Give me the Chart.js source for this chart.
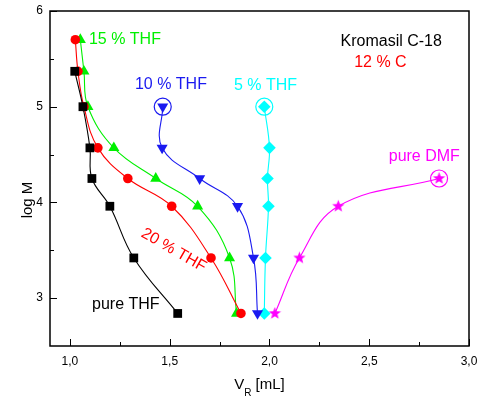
<!DOCTYPE html>
<html lang="en">
<head>
<meta charset="UTF-8">
<title>log M vs V_R - Kromasil C-18</title>
<script src="https://cdn.jsdelivr.net/npm/chart.js"></script>
<style>
  body { margin: 0; background: #fff; }
</style>
</head>
<body>
<canvas id="gpc-chart" width="483" height="399"></canvas>
<script>
// log M levels of the standards (top to bottom)
const logM = [5.70, 5.37, 5.00, 4.57, 4.25, 3.96, 3.42, 2.84];

// retention volumes V_R [mL] per eluent
const vrPureTHF = [1.024, 1.065, 1.10, 1.11, 1.20, 1.32, 1.54];       // logM from 5.37
const vrTHF20 = [1.027, 1.04, 1.07, 1.14, 1.29, 1.51, 1.707, 1.857];   // all levels
const vrTHF15 = [1.052, 1.07, 1.09, 1.22, 1.43, 1.64, 1.80, 1.835];    // all levels
const vrTHF10 = [1.465, 1.462, 1.65, 1.84, 1.92, 1.94];                // logM from 5.00
const vrTHF5 = [1.974, 2.0, 1.99, 1.995, 1.98, 1.974];                 // logM from 5.00
const vrDMF = [2.85, 2.345, 2.15, 2.027];                              // logM from 4.25

const xTicks = [1.0, 1.5, 2.0, 2.5, 3.0];
const xMinor = [1.25, 1.75, 2.25, 2.75];
const yTicks = [3, 4, 5, 6];
const yMinor = [3.5, 4.5, 5.5];

const FONT = '"Liberation Sans", Arial, sans-serif';

function pairs(vr, levels) {
    return vr.map((v, i) => ({ x: v, y: levels[i] }));
}

// filled five-point star marker
function starMarker(color, r) {
    const c = document.createElement('canvas');
    const s = Math.ceil(r * 2 + 2);
    c.width = s; c.height = s;
    const g = c.getContext('2d');
    g.fillStyle = color;
    g.beginPath();
    for (let i = 0; i < 10; i++) {
        const rad = i % 2 ? r * 0.42 : r;
        const a = -Math.PI / 2 + i * Math.PI / 5;
        g.lineTo(s / 2 + rad * Math.cos(a), s / 2 + rad * Math.sin(a));
    }
    g.closePath();
    g.fill();
    return c;
}

function series(data, color, style, radius, rotation) {
    return {
        data: data,
        showLine: true,
        tension: 0.4,
        borderColor: color,
        backgroundColor: color,
        borderWidth: 1.1,
        pointStyle: style,
        pointRadius: radius,
        pointRotation: rotation || 0,
        pointBorderWidth: 0
    };
}

function ring(point, color) {
    return {
        data: [point],
        showLine: false,
        pointStyle: 'circle',
        pointRadius: 8.5,
        borderColor: color,
        backgroundColor: 'rgba(0,0,0,0)',
        pointBorderWidth: 1.2
    };
}

const BLUE = '#1a1af0';
const GREEN = '#00f000';
const thf10 = pairs(vrTHF10, logM.slice(2));
const thf5 = pairs(vrTHF5, logM.slice(2));
const dmf = pairs(vrDMF, logM.slice(4));

// text labels placed in data units
const notes = [
    { text: '15 % THF', x: 1.095, y: 5.70, color: GREEN, align: 'left' },
    { text: '10 % THF', x: 1.506, y: 5.23, color: BLUE, align: 'center' },
    { text: '5 % THF', x: 1.98, y: 5.22, color: '#00ffff', align: 'center' },
    { text: 'pure DMF', x: 2.776, y: 4.48, color: '#ff00ff', align: 'center' },
    { text: 'Kromasil C-18', x: 2.61, y: 5.68, color: '#000', align: 'center' },
    { text: '12 % C', x: 2.556, y: 5.46, color: '#ff0000', align: 'center' },
    { text: 'pure THF', x: 1.28, y: 2.93, color: '#000', align: 'center' },
    { text: '20 % THF', x: 1.52, y: 3.50, color: '#ff0000', align: 'center', angle: 30 }
];

const decorations = {
    id: 'decorations',
    afterDraw(chart) {
        const { ctx, chartArea: a, scales: { x, y } } = chart;
        ctx.save();
        ctx.strokeStyle = '#000';
        ctx.lineWidth = 1.5;
        ctx.strokeRect(a.left, a.top, a.right - a.left, a.bottom - a.top);

        // inward tick marks on bottom and left
        ctx.lineWidth = 1;
        ctx.beginPath();
        xTicks.forEach(v => { const p = Math.round(x.getPixelForValue(v)) + 0.5; ctx.moveTo(p, a.bottom); ctx.lineTo(p, a.bottom - 7); });
        xMinor.forEach(v => { const p = Math.round(x.getPixelForValue(v)) + 0.5; ctx.moveTo(p, a.bottom); ctx.lineTo(p, a.bottom - 4); });
        yTicks.forEach(v => { const p = Math.round(y.getPixelForValue(v)) + 0.5; ctx.moveTo(a.left, p); ctx.lineTo(a.left + 7, p); });
        yMinor.forEach(v => { const p = Math.round(y.getPixelForValue(v)) + 0.5; ctx.moveTo(a.left, p); ctx.lineTo(a.left + 4, p); });
        ctx.stroke();

        // annotations
        ctx.font = '16px ' + FONT;
        ctx.textBaseline = 'middle';
        notes.forEach(n => {
            ctx.save();
            ctx.translate(x.getPixelForValue(n.x), y.getPixelForValue(n.y));
            if (n.angle) ctx.rotate(n.angle * Math.PI / 180);
            ctx.fillStyle = n.color;
            ctx.textAlign = n.align;
            ctx.fillText(n.text, 0, 0);
            ctx.restore();
        });

        // axis titles
        ctx.fillStyle = '#000';
        ctx.font = '15px ' + FONT;
        const cx = (a.left + a.right) / 2;
        const w1 = ctx.measureText('V').width;
        ctx.font = '10px ' + FONT;
        const w2 = ctx.measureText('R').width;
        ctx.font = '15px ' + FONT;
        const w3 = ctx.measureText(' [mL]').width;
        let tx = cx - (w1 + w2 + w3) / 2;
        ctx.textAlign = 'left';
        ctx.fillText('V', tx, 385);
        ctx.font = '10px ' + FONT;
        ctx.fillText('R', tx + w1, 393);
        ctx.font = '15px ' + FONT;
        ctx.fillText(' [mL]', tx + w1 + w2, 385);

        ctx.translate(28, 200);
        ctx.rotate(-Math.PI / 2);
        ctx.textAlign = 'center';
        ctx.fillText('log M', 0, 0);
        ctx.restore();
    }
};

// drop the label overflow padding so layout.padding alone sets the plot box
function noOverflow(s) {
    s.paddingLeft = 0; s.paddingRight = 0; s.paddingTop = 0; s.paddingBottom = 0;
}

const ctx = document.getElementById('gpc-chart').getContext('2d');
new Chart(ctx, {
    type: 'scatter',
    data: {
        datasets: [
            series(pairs(vrPureTHF, logM.slice(1)), '#000000', 'rect', 6.2),
            series(pairs(vrTHF20, logM), '#ff0000', 'circle', 4.8),
            series(pairs(vrTHF15, logM), GREEN, 'triangle', 6.4),
            series(thf10, BLUE, 'triangle', 6.4, 180),
            series(thf5, '#00ffff', 'rectRot', 6.3),
            series(dmf, '#ff00ff', starMarker('#ff00ff', 6.5), 6.5),
            ring(thf10[0], BLUE),
            ring(thf5[0], '#00ffff'),
            ring(dmf[0], '#ff00ff')
        ]
    },
    options: {
        responsive: false,
        animation: false,
        layout: { padding: { top: 11, right: 14, left: 0, bottom: 0 } },
        plugins: { legend: { display: false }, tooltip: { enabled: false } },
        scales: {
            x: {
                type: 'linear',
                min: 0.9,
                max: 3.0,
                grid: { display: false, drawTicks: false },
                border: { display: false },
                afterBuildTicks: s => { s.ticks = xTicks.map(v => ({ value: v })); },
                afterFit: s => { s.height = 53; noOverflow(s); },
                ticks: {
                    color: '#000',
                    padding: 8,
                    maxRotation: 0,
                    font: { family: FONT, size: 12 },
                    callback: v => v.toFixed(1).replace('.', ',')
                }
            },
            y: {
                type: 'linear',
                min: 2.5,
                max: 6,
                grid: { display: false, drawTicks: false },
                border: { display: false },
                afterBuildTicks: s => { s.ticks = yTicks.map(v => ({ value: v })); },
                afterFit: s => { s.width = 50; noOverflow(s); },
                ticks: {
                    color: '#000',
                    padding: 7,
                    font: { family: FONT, size: 12 },
                    callback: v => String(v)
                }
            }
        }
    },
    plugins: [decorations]
});
</script>
</body>
</html>
